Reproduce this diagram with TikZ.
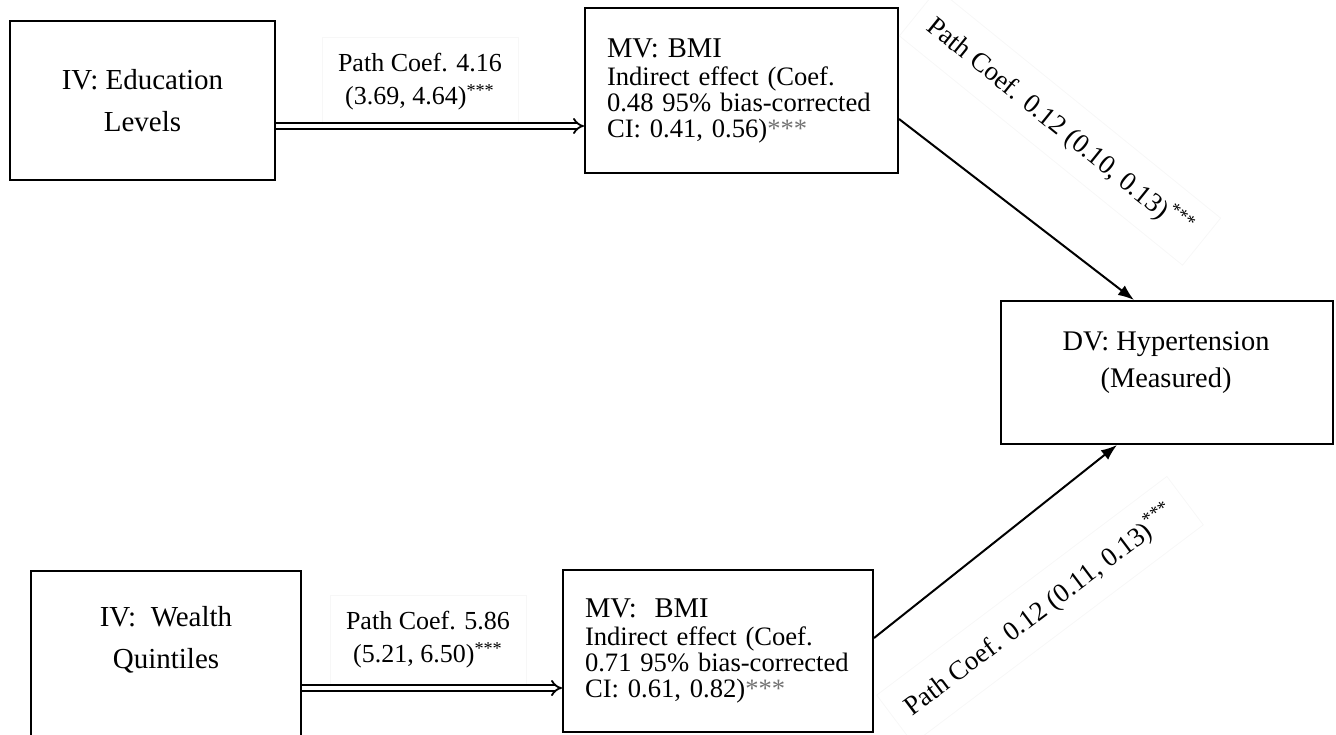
\documentclass[tikz,border=0pt]{standalone}
\usepackage{fontspec}
\setmainfont{Liberation Serif}
\usetikzlibrary{arrows.meta}
\newcommand{\sig}{\textsuperscript{***}}
\newcommand{\grsig}{{\color{black!55}***}}

\begin{document}
\begin{tikzpicture}[x=0.5pt, y=-0.5pt,
	varbox/.style={draw, line width=1pt, align=center, inner sep=0pt},
	mvbox/.style={draw, line width=1pt, align=left, text width=#1, inner xsep=11pt, inner ysep=0pt, font=\fontsize{13.3}{13}\selectfont},
	coeflabel/.style={draw=black!3, align=center, inner sep=8pt, font=\fontsize{13}{16.5}\selectfont},
	effarrow/.style={line width=1pt, -{Latex[length=8pt, width=6pt]}},
	dblarrow/.style={double, double distance=1.8pt, line width=0.9pt, -{Implies}}]
	\useasboundingbox (0,0) rectangle (1336,734);
	\clip (0,0) rectangle (1336,734);

	% independent variables
	\node[varbox, minimum width=132.5pt, minimum height=79.5pt, font=\fontsize{14.5}{21}\selectfont] (edu) at (142.5,100.5) {IV: Education\\Levels};
	\node[varbox, minimum width=135pt, minimum height=87pt] (wealth) at (166,658) {};
	\node[align=center, font=\fontsize{14.5}{21}\selectfont] (wealthtxt) at (166,640) {IV:\ \ Wealth\\Quintiles};

	% mediators
	\node[mvbox=134.5pt, minimum height=82.5pt] (bmiA) at (741.5,90.5) {{\fontsize{14.3}{15}\selectfont MV: BMI}\\[1pt]Indirect effect (Coef.\\0.48 95\% bias-corrected\\CI: 0.41, 0.56)\grsig};
	\node[mvbox=133pt, minimum height=81pt] (bmiB) at (718,651) {{\fontsize{14.3}{15}\selectfont MV:\ \ BMI}\\[1pt]Indirect effect (Coef.\\0.71 95\% bias-corrected\\CI: 0.61, 0.82)\grsig};

	% outcome
	\node[varbox, minimum width=166pt, minimum height=71.5pt] (hyp) at (1167,372.5) {};
	\node[align=center, font=\fontsize{14.2}{18.5}\selectfont] (hyptxt) at (1166,363) {DV: Hypertension\\(Measured)};

	% path labels
	\node[coeflabel] (coefA) at (420,82) {Path Coef. 4.16\\(3.69, 4.64)\sig};
	\node[coeflabel] (coefB) at (428,640) {Path Coef. 5.86\\(5.21, 6.50)\sig};
	\node[coeflabel, rotate=-39, font=\fontsize{13.5}{16}\selectfont] (coefC) at (1060,127) {Path Coef. 0.12 (0.10, 0.13)\sig};
	\node[coeflabel, rotate=37, font=\fontsize{13.5}{16}\selectfont] (coefD) at (1040,610) {Path Coef. 0.12 (0.11, 0.13)\sig};

	% arrows
	\coordinate (eduout) at ([yshift=-12.75pt]edu.east);
	\coordinate (wealthout) at ([yshift=-15pt]wealth.east);
	\draw[dblarrow] (eduout) -- (eduout -| bmiA.west);
	\draw[dblarrow] (wealthout) -- (wealthout -| bmiB.west);
	\draw[effarrow] ([yshift=-14.25pt]bmiA.east) -- ([xshift=67pt]hyp.north west);
	\draw[effarrow] ([yshift=6.5pt]bmiB.east) -- ([xshift=58.5pt]hyp.south west);
\end{tikzpicture}
\end{document}
